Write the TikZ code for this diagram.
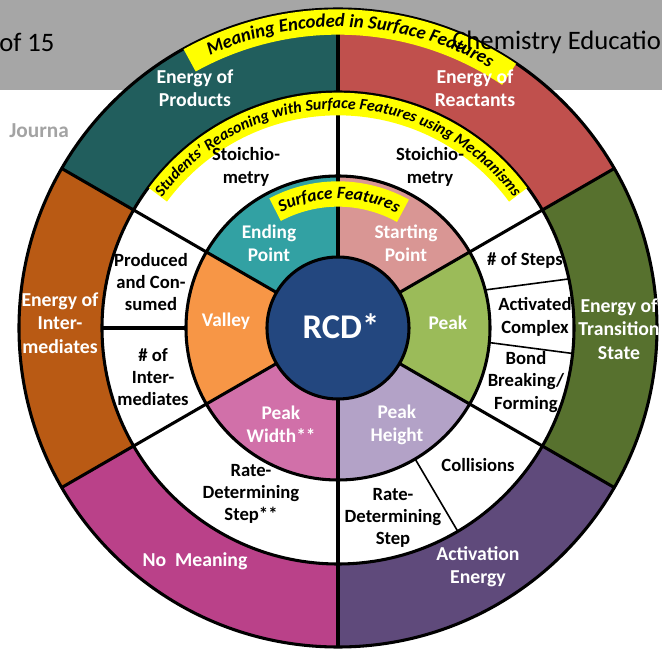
\documentclass[tikz,border=0pt]{standalone}
\usepackage{fontspec}
\setmainfont{Carlito}
\usetikzlibrary{decorations.text}

\definecolor{headgray}{HTML}{A6A6A6}
\definecolor{jgray}{HTML}{A3A3A3}
\definecolor{cproducts}{HTML}{215E5D}
\definecolor{creactants}{HTML}{C0504D}
\definecolor{cintermed}{HTML}{B95A14}
\definecolor{cnomeaning}{HTML}{BA4189}
\definecolor{cactivation}{HTML}{5F4A7B}
\definecolor{ctransition}{HTML}{57712E}
\definecolor{cending}{HTML}{32A1A3}
\definecolor{cstarting}{HTML}{D99694}
\definecolor{cvalley}{HTML}{F79646}
\definecolor{cpeakwidth}{HTML}{D170A9}
\definecolor{cpeakheight}{HTML}{B3A2C7}
\definecolor{cpeak}{HTML}{9BBB59}
\definecolor{ccore}{HTML}{23477F}
\definecolor{hilite}{HTML}{FFFF00}

% annular sector: colour, start angle, end angle, inner radius, outer radius
\newcommand\ringsector[5]{%
  \fill[#1] (#2:#4) arc[start angle=#2,end angle=#3,radius=#4]
    -- (#3:#5) arc[start angle=#3,end angle=#2,radius=#5] -- cycle;}

\begin{document}
\begin{tikzpicture}[x=0.75pt,y=0.75pt,
  outerlabel/.style={text=white,align=center,font=\bfseries\fontsize{14.8}{17.5}\selectfont},
  midlabel/.style={text=black,align=center,font=\bfseries\fontsize{14}{16.8}\selectfont},
  innerlabel/.style={text=white,align=center,font=\bfseries\fontsize{14.5}{17.5}\selectfont},
  bigline/.style={line width=2.3pt,black},
  thinline/.style={line width=1.2pt,black},
  band/.style={hilite,line width=#1},
]
\useasboundingbox (-338,-321) rectangle (324,328);
\clip (-338,-321) rectangle (324,328);

% page header strip
\fill[headgray] (-338,328) rectangle (324,238);
\node[anchor=west,inner sep=0,font=\fontsize{20}{20}\selectfont] (pagecount) at (-339,286) {of 15};
\node[anchor=west,inner sep=0,text=jgray,font=\bfseries\fontsize{16}{16}\selectfont] (journal) at (-329,197) {Journa};

% outer ring (236 to 319): meanings
\ringsector{creactants}{30}{90}{236}{319}
\ringsector{cproducts}{90}{150}{236}{319}
\ringsector{cintermed}{150}{210}{236}{319}
\ringsector{cnomeaning}{210}{270}{236}{319}
\ringsector{cactivation}{270}{330}{236}{319}
\ringsector{ctransition}{-30}{30}{236}{319}

% middle ring: reasoning
\fill[white] (0,0) circle[radius=236];

% inner ring (71 to 152): surface features
\ringsector{cstarting}{30}{90}{71}{152}
\ringsector{cending}{90}{150}{71}{152}
\ringsector{cvalley}{150}{210}{71}{152}
\ringsector{cpeakwidth}{210}{270}{71}{152}
\ringsector{cpeakheight}{270}{330}{71}{152}
\ringsector{cpeak}{-30}{30}{71}{152}

% core
\fill[ccore] (0,0) circle[radius=71];

% spokes
\foreach \a in {30,90,150,210,270,330}
  \draw[bigline] (\a:71) -- (\a:319);
\draw[bigline] (180:152) -- (180:236);
\draw[thinline] (-59.5:152) -- (-59.5:236);
\draw[thinline] (14.5:152) -- (12:236);
\draw[thinline] (-5.5:152) -- (-6.2:236);

% ring outlines
\foreach \r in {71,152,236,319}
  \draw[bigline] (0,0) circle[radius=\r];

% curved captions
\draw[band=19] (119:306) arc[start angle=119,end angle=56,radius=306];
\path[decorate,decoration={text along path,text align=center,
  text={|\bfseries\itshape\fontsize{14}{14}\selectfont|Meaning Encoded in Surface Features}}]
  (120:301) arc[start angle=120,end angle=55,radius=301];

\draw[band=17] (143.5:224) arc[start angle=143.5,end angle=36.5,radius=224];
\path[decorate,decoration={text along path,text align=center,
  text={|\bfseries\itshape\fontsize{12}{12}\selectfont|Students’ Reasoning with Surface Features using Mechanisms}}]
  (150:219) arc[start angle=150,end angle=30,radius=219];

\draw[band=19] (118:134) arc[start angle=118,end angle=61,radius=134];
\path[decorate,decoration={text along path,text align=center,
  text={|\bfseries\itshape\fontsize{13}{13}\selectfont|Surface Features}}]
  (125:129) arc[start angle=125,end angle=54,radius=129];

% header title drawn over the wheel
\node[anchor=west,inner sep=0,font=\fontsize{20}{20}\selectfont] (title) at (114,286) {Chemistry Education};

% outer ring labels
\node[outerlabel] (products) at (-143,240) {Energy of\\Products};
\node[outerlabel] (reactants) at (137,240) {Energy of\\Reactants};
\node[outerlabel] (intermediates) at (-278,5) {Energy of\\Inter-\\mediates};
\node[outerlabel] (transition) at (281,-1) {Energy of\\Transition\\State};
\node[outerlabel] (nomeaning) at (-143,-233) {No\ \ Meaning};
\node[outerlabel] (activation) at (140,-239) {Activation\\Energy};

% middle ring labels
\node[midlabel] (stoichL) at (-92,161) {Stoichio-\\metry};
\node[midlabel] (stoichR) at (92,161) {Stoichio-\\metry};
\node[midlabel] (produced) at (-187,46) {Produced\\and Con-\\sumed};
\node[midlabel] (numinter) at (-185,-49) {\# of\\Inter-\\mediates};
\node[midlabel] (rdsB) at (-87,-166) {Rate-\\Determining\\Step**};
\node[midlabel] (rdsA) at (55,-190) {Rate-\\Determining\\Step};
\node[midlabel] (collisions) at (140,-137) {Collisions};
\node[midlabel] (numsteps) at (187,68) {\# of Steps};
\node[midlabel] (actcomplex) at (197,11) {Activated\\Complex};
\node[midlabel] (bonds) at (188,-54) {Bond\\Breaking/\\Forming};

% inner ring labels
\node[innerlabel] (ending) at (-69,85) {Ending\\Point};
\node[innerlabel] (starting) at (68,85) {Starting\\Point};
\node[innerlabel] (valley) at (-112,7) {Valley};
\node[innerlabel] (peak) at (110,5) {Peak};
\node[innerlabel] (peakwidth) at (-57,-96) {Peak\\Width**};
\node[innerlabel] (peakheight) at (59,-97) {Peak\\Height};

% centre
\node[text=white,font=\bfseries\fontsize{26}{26}\selectfont] (rcd) at (3,2) {RCD*};
\end{tikzpicture}
\end{document}
